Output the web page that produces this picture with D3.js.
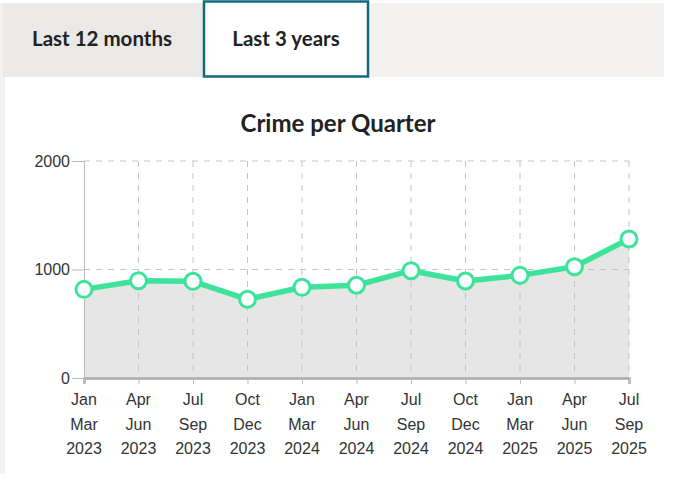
<!DOCTYPE html>
<html>
<head>
<meta charset="utf-8">
<script src="https://cdn.jsdelivr.net/npm/d3@7"></script>
<style>
  html, body { margin: 0; padding: 0; background: #fff; }
  svg { display: block; }
</style>
</head>
<body>
<div id="chart"></div>
<script>
// tabs + chart data
var tabs = ["Last 12 months", "Last 3 years"];
var quarters = [
  ["Jan", "Mar", "2023"], ["Apr", "Jun", "2023"], ["Jul", "Sep", "2023"], ["Oct", "Dec", "2023"],
  ["Jan", "Mar", "2024"], ["Apr", "Jun", "2024"], ["Jul", "Sep", "2024"], ["Oct", "Dec", "2024"],
  ["Jan", "Mar", "2025"], ["Apr", "Jun", "2025"], ["Jul", "Sep", "2025"]
];
var crimes = [817, 897, 891, 725, 836, 855, 989, 894, 946, 1026, 1281];
var yTicks = [0, 1000, 2000];

var width = 680,
    height = 498;

var svg = d3.select('#chart')
      .append('svg')
      .attr('width', width)
      .attr('height', height);

// page background + white panel
svg.append('rect')
  .attr('x', 0).attr('y', 3)
  .attr('width', 664).attr('height', 471)
  .attr('fill', '#f3f2f0');
svg.append('rect')
  .attr('x', 5).attr('y', 77)
  .attr('width', 659).attr('height', 397)
  .attr('fill', '#fff');

// tabs
svg.append('rect')
  .attr('x', 3).attr('y', 3)
  .attr('width', 200).attr('height', 74)
  .attr('fill', '#eae9e7');
svg.append('rect')
  .attr('x', 204).attr('y', 1.5)
  .attr('width', 164).attr('height', 75)
  .attr('fill', '#fff')
  .attr('stroke', '#11697e')
  .attr('stroke-width', 2.5);

var tabX = [102, 286];
svg.selectAll('.tab')
  .data(tabs)
  .enter()
  .append('text')
  .attr('x', (d, i) => tabX[i])
  .attr('y', 46)
  .attr('text-anchor', 'middle')
  .style('font-family', 'Lato, sans-serif')
  .style('font-weight', 'bold')
  .style('font-size', '20.5px')
  .style('fill', '#222')
  .text(d => d);

// title
svg.append('text')
  .attr('x', 338)
  .attr('y', 132)
  .attr('text-anchor', 'middle')
  .style('font-family', 'Lato, sans-serif')
  .style('font-weight', 'bold')
  .style('font-size', '24px')
  .style('fill', '#222')
  .text('Crime per Quarter');

var x = d3.scalePoint()
  .domain(d3.range(quarters.length))
  .range([84, 629]);

var y = d3.scaleLinear()
  .domain([0, 2000])
  .range([378, 161]);

// area under line
var area = d3.area()
  .x((d, i) => x(i))
  .y0(y(0))
  .y1(d => y(d));

svg.append('path')
  .datum(crimes)
  .attr('d', area)
  .attr('fill', '#e6e6e6');

// grid
svg.selectAll('.hgrid')
  .data(yTicks.filter(d => d > 0))
  .enter()
  .append('line')
  .attr('x1', x(0)).attr('x2', x(quarters.length - 1))
  .attr('y1', d => y(d)).attr('y2', d => y(d))
  .attr('stroke', '#c4c4c4')
  .attr('stroke-dasharray', '6,6');

svg.selectAll('.vgrid')
  .data(d3.range(1, quarters.length))
  .enter()
  .append('line')
  .attr('x1', d => x(d)).attr('x2', d => x(d))
  .attr('y1', y(2000)).attr('y2', y(0))
  .attr('stroke', '#c4c4c4')
  .attr('stroke-dasharray', '6,6');

// y axis
var yAxis = svg.append('g')
  .attr('transform', 'translate(' + x(0) + ',0)')
  .call(d3.axisLeft(y).tickValues(yTicks).tickFormat(d3.format('d')).tickSize(12).tickPadding(2));
yAxis.select('.domain').attr('stroke', '#bbb');
yAxis.selectAll('.tick line').attr('stroke', '#bbb');
yAxis.selectAll('.tick text')
  .style('font-family', '"Liberation Sans", Arial, sans-serif')
  .style('font-size', '16px')
  .style('fill', '#333');

// x axis
var xAxis = svg.append('g')
  .attr('transform', 'translate(0,' + y(0) + ')')
  .call(d3.axisBottom(x).tickSize(6).tickFormat(''));
xAxis.select('.domain').attr('stroke', '#aaa').attr('stroke-width', 2.5);
xAxis.selectAll('.tick line').attr('stroke', '#bbb');

svg.selectAll('.xlab')
  .data(quarters)
  .enter()
  .append('text')
  .attr('text-anchor', 'middle')
  .style('font-family', '"Liberation Sans", Arial, sans-serif')
  .style('font-size', '16px')
  .style('fill', '#333')
  .each(function(d, i) {
    var t = d3.select(this);
    d.forEach((s, k) => {
      t.append('tspan')
        .attr('x', x(i))
        .attr('y', 405 + k * 24.5)
        .text(s);
    });
  });

// line + points
var line = d3.line()
  .x((d, i) => x(i))
  .y(d => y(d));

svg.append('path')
  .datum(crimes)
  .attr('d', line)
  .attr('fill', 'none')
  .attr('stroke', '#3ee39b')
  .attr('stroke-width', 5.5)
  .attr('stroke-linejoin', 'round');

svg.selectAll('.dot')
  .data(crimes)
  .enter()
  .append('circle')
  .attr('cx', (d, i) => x(i))
  .attr('cy', d => y(d))
  .attr('r', 8)
  .attr('fill', '#fff')
  .attr('stroke', '#3ee39b')
  .attr('stroke-width', 3);
</script>
</body>
</html>
